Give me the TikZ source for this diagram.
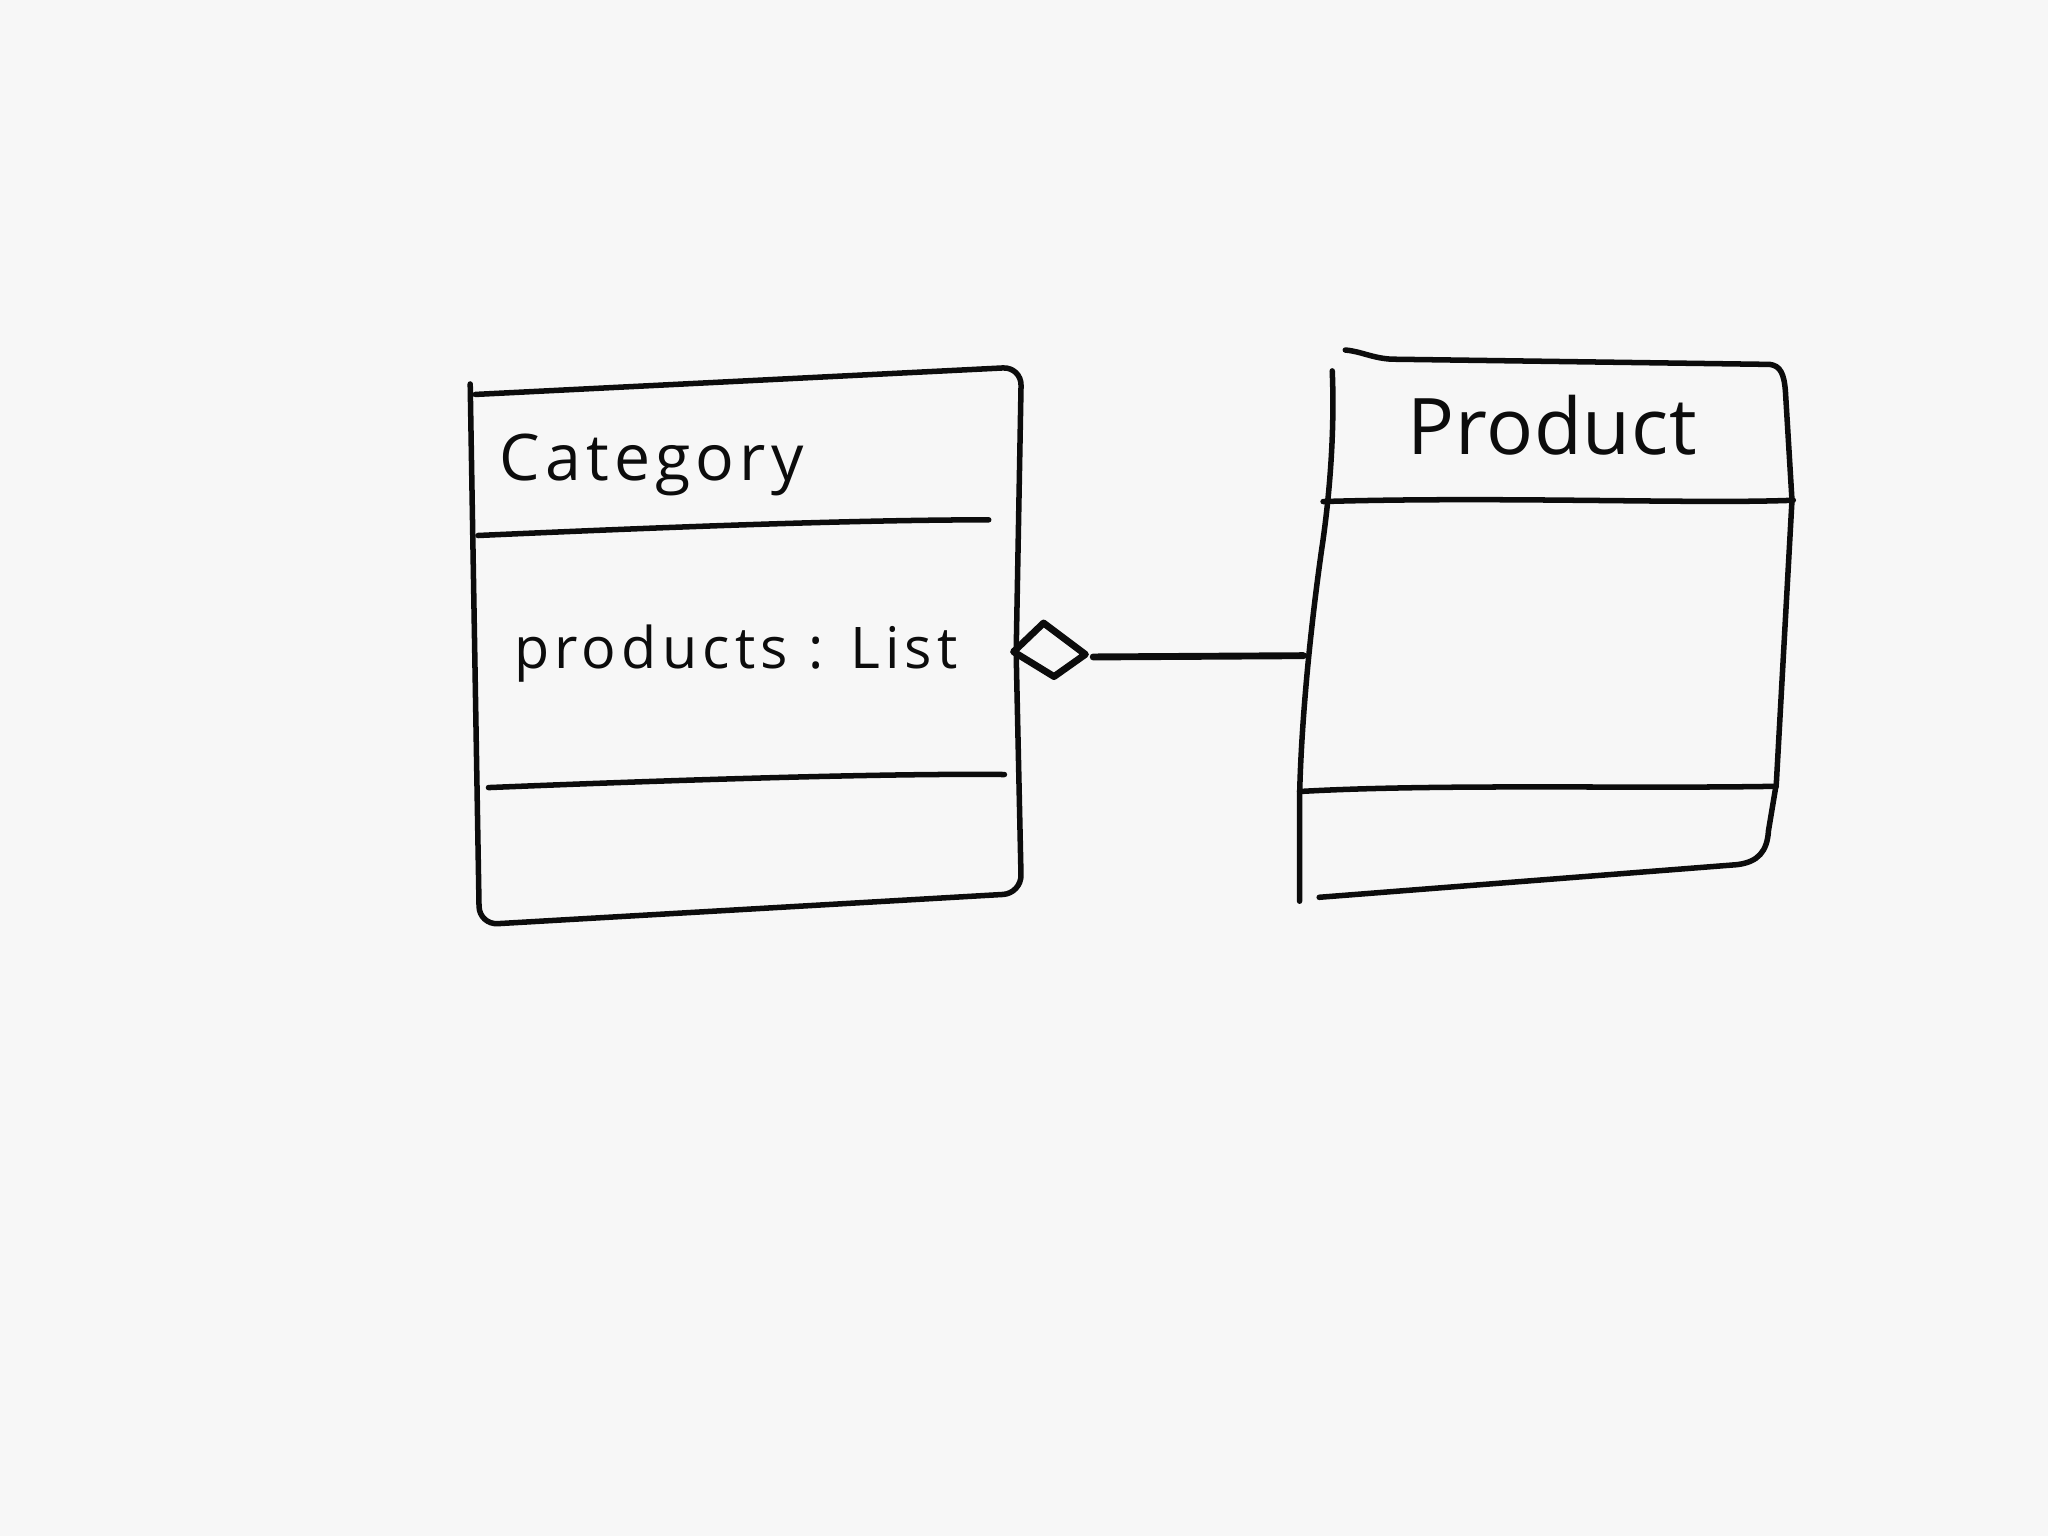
\documentclass[tikz,border=0pt]{standalone}
\usepackage{fontspec}
\newfontfamily\handcat[LetterSpace=8]{Open Sans}
\newfontfamily\handattr[LetterSpace=9]{Open Sans}
\newfontfamily\handprod[LetterSpace=1]{Open Sans}
\definecolor{paper}{RGB}{247,247,247}
\definecolor{ink}{RGB}{12,12,12}
\tikzset{
  pen/.style={draw=ink, line width=1.2pt, line cap=round, line join=round},
  boldpen/.style={draw=ink, line width=1.5pt, line cap=round, line join=round},
  label/.style={inner sep=0pt, anchor=base west, text=ink},
}
\begin{document}
\begin{tikzpicture}[x=0.01cm, y=-0.01cm]
\useasboundingbox[fill=paper] (0,0) rectangle (1568,1176);

% ---------- Category class ----------
\coordinate (ctl0) at (360,294);
\coordinate (ctl)  at (364,302);
\coordinate (cbl)  at (367,708);
\coordinate (cbr)  at (782,684);
\coordinate (cmr)  at (778,500);
\coordinate (ctr)  at (782,281);
\draw[pen, rounded corners=4] (ctl0) -- (cbl) -- (cbr) -- (cmr) -- (ctr) -- (ctl);
\draw[pen] (366,410) .. controls (500,404) and (650,398) .. (757,398);
\draw[pen] (374,603) .. controls (520,597) and (680,592) .. (769,593);

\node[label, font=\handcat\fontsize{14}{16}\selectfont] (catname) at (382,368) {Category};
\node[label, font=\handattr\fontsize{12.5}{15}\selectfont] (catattr) at (393,512) {products : List};

% ---------- Product class ----------
\coordinate (ptl0) at (1030,268);
\coordinate (ptr)  at (1355,279);
\coordinate (pbl)  at (1010,687);
\draw[pen] (ptl0) .. controls (1042,269) and (1050,274) .. (1065,275)
  -- (ptr) .. controls (1363,280) and (1366,286) .. (1367,300)
  -- (1372,383) -- (1360,600) -- (1354,636)
  .. controls (1353,652) and (1346,660) .. (1330,662) -- (pbl);
\coordinate (plt) at (1020,284);
\coordinate (plm) at (998,502);
\coordinate (plb) at (995,690);
\draw[pen] (plt) .. controls (1022,330) and (1018,380) .. (1012,420)
  .. controls (1002,490) and (996,560) .. (995,610) -- (plb);
\draw[pen] (1013,384) .. controls (1150,380) and (1300,386) .. (1373,383);
\draw[pen] (995,606) .. controls (1100,600) and (1250,604) .. (1360,602);

\node[label, font=\handprod\fontsize{17}{20}\selectfont] (prodname) at (1077,348) {Product};

% ---------- Aggregation ----------
\coordinate (dl) at (776,499);
\coordinate (dt) at (799,477);
\coordinate (dr) at (831,501);
\coordinate (db) at (807,518);
\draw[boldpen] (dl) -- (dt) -- (dr) -- (db) -- cycle;
\coordinate (dstart) at (837,503);
\draw[boldpen] (dstart) -- (plm);
\end{tikzpicture}
\end{document}
